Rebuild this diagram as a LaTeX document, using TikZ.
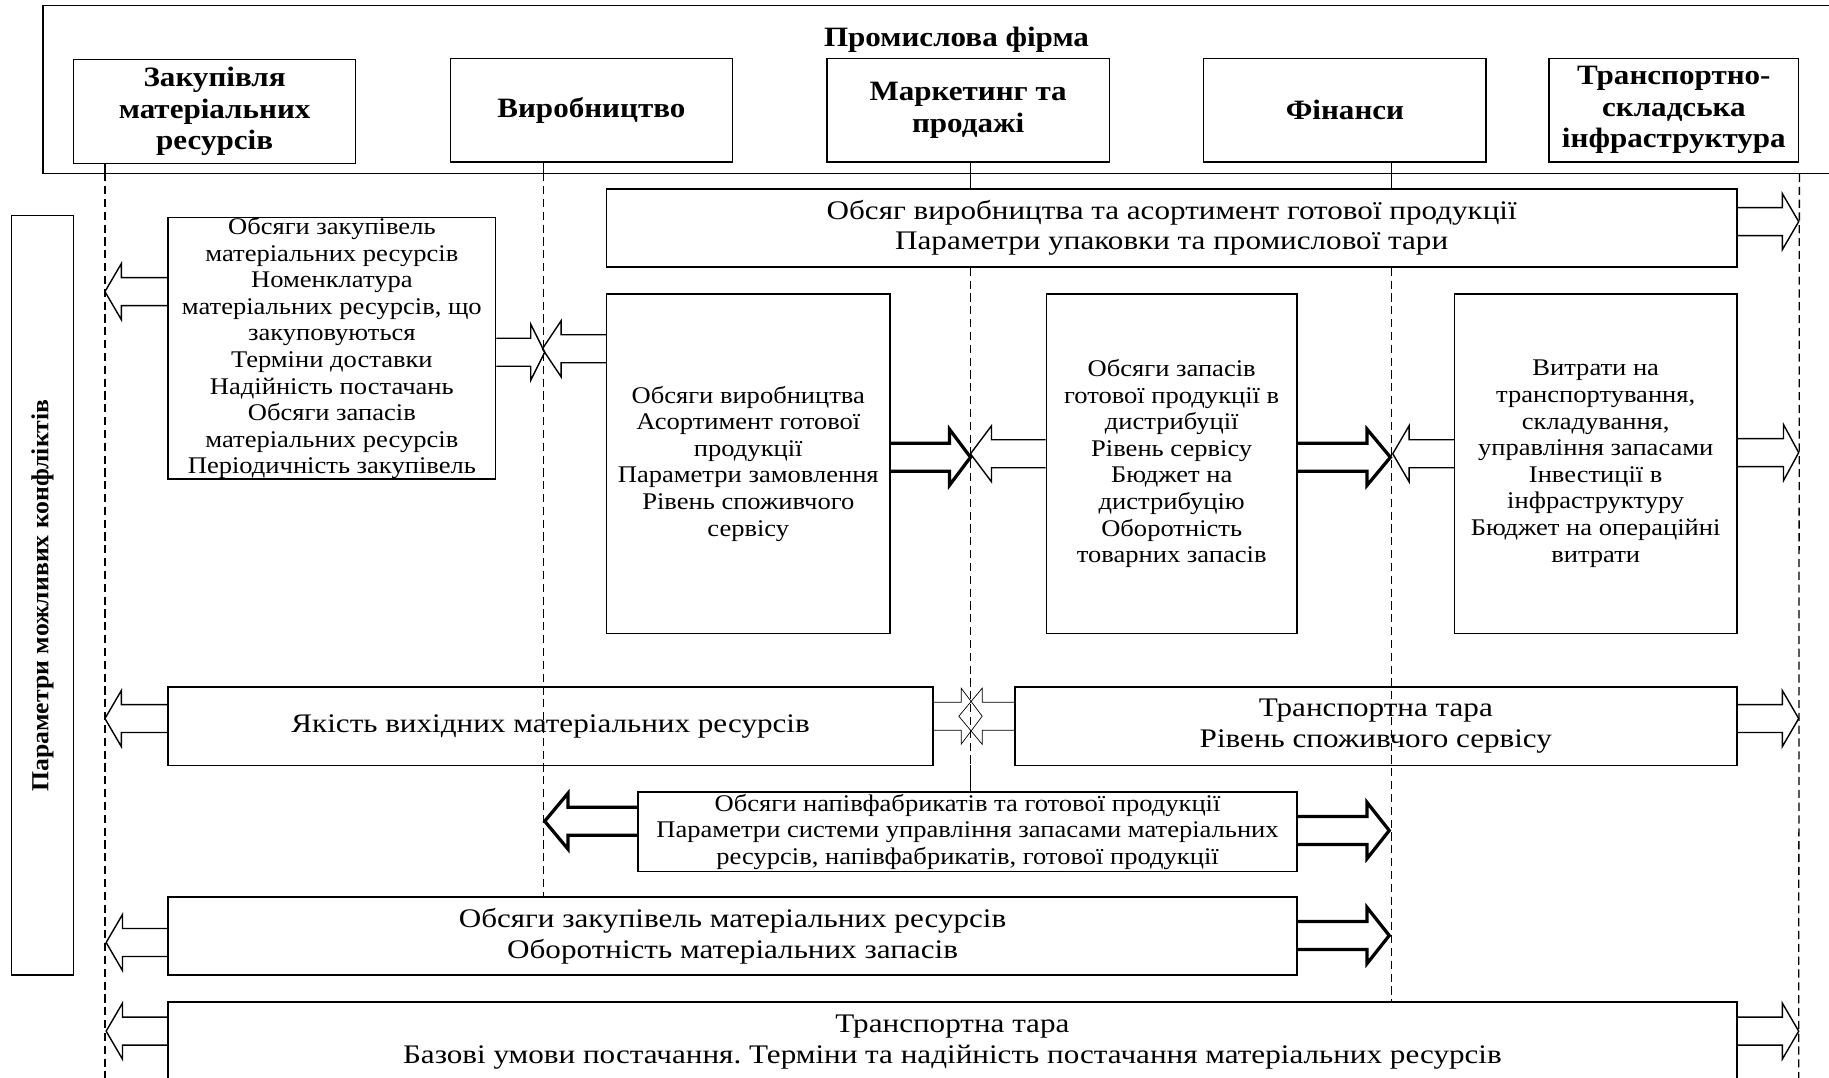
\documentclass[tikz,border=0pt]{standalone}
\usepackage{fontspec}
\setmainfont{Liberation Serif}
\newfontfamily\bigfont[FakeStretch=1.16]{Liberation Serif}
\newfontfamily\smallfont[FakeStretch=1.11]{Liberation Serif}
\newfontfamily\hdrfont[FakeStretch=1.11]{Liberation Serif}
\newfontfamily\lblfont[FakeStretch=1.05]{Liberation Serif}
\frenchspacing
\newcommand\barrow[5][arr]{\draw[#1] (#2 |- 0,#5-12) -- (#3,#5-12) -- (#3,#5-24) -- (#4,#5) -- (#3,#5+24) -- (#3,#5+12) -- (#2 |- 0,#5+12);}
\begin{document}
\begin{tikzpicture}[x=1pt,y=-1pt,
  box/.style={draw, line width=1.2pt, inner sep=0pt, align=center},
  big/.style={font=\bigfont\fontsize{23}{26}\selectfont},
  small/.style={font=\smallfont\fontsize{20.5}{22.8}\selectfont},
  hdr/.style={font=\hdrfont\fontsize{24}{27}\selectfont\bfseries},
  arr/.style={line width=1.2pt},
  tharr/.style={line width=2.8pt},
  lharr/.style={line width=0.6pt},
  vline/.style={line width=1pt},
  dline/.style={line width=1.1pt, dash pattern=on 7pt off 4pt}]
\useasboundingbox (0,0) rectangle (1568,924);
% outer frame
\draw[line width=1.2pt] (1575,4.5) -- (37,4.5) -- (37,148.5) -- (1575,148.5);
\node[hdr] (title) at (820,34) {Промислова фірма};
% header boxes
\node[box,hdr,minimum width=242pt,minimum height=89pt] (h1) at (184,95.5) {Закупівля\\матеріальних\\ресурсів};
\node[box,hdr,minimum width=242pt,minimum height=89pt] (h2) at (507,94.5) {Виробництво};
\node[box,hdr,minimum width=242pt,minimum height=89pt] (h3) at (830,94.5) {Маркетинг та\\продажі};
\node[box,hdr,minimum width=242pt,minimum height=89pt] (h4) at (1153,94.5) {Фінанси};
\node[box,hdr,minimum width=214pt,minimum height=89pt] (h5) at (1435,94.5) {Транспортно-\\складська\\інфраструктура};
% left label
\node[box,minimum width=53pt,minimum height=651pt] (L) at (36.5,510.5) {};
\node[rotate=90,font=\lblfont\fontsize{21}{24}\selectfont\bfseries] at (L.center) {Параметри можливих конфліктів};
% content boxes
\node[box,big,minimum width=969pt,minimum height=67pt] (A) at (1004.5,195.5) {Обсяг виробництва та асортимент готової продукції\\Параметри упаковки та промислової тари};
\node[box,small,minimum width=281pt,minimum height=224pt] (B) at (284.5,298.5) {Обсяги закупівель\\матеріальних ресурсів\\Номенклатура\\матеріальних ресурсів, що\\закуповуються\\Терміни доставки\\Надійність постачань\\Обсяги запасів\\матеріальних ресурсів\\Періодичність закупівель};
\node[box,small,minimum width=243pt,minimum height=291pt] (C) at (641.5,397.5) {Обсяги виробництва\\Асортимент готової\\продукції\\Параметри замовлення\\Рівень споживчого\\сервісу};
\node[box,small,minimum width=215pt,minimum height=291pt] (D) at (1004.5,397.5) {Обсяги запасів\\готової продукції в\\дистрибуції\\Рівень сервісу\\Бюджет на\\дистрибуцію\\Оборотність\\товарних запасів};
\node[box,small,minimum width=242pt,minimum height=291pt] (E) at (1368,397.5) {Витрати на\\транспортування,\\складування,\\управління запасами\\Інвестиції в\\інфраструктуру\\Бюджет на операційні\\витрати};
\node[box,big,minimum width=656pt,minimum height=67pt] (F) at (472,622.5) {Якість вихідних матеріальних ресурсів};
\node[box,big,minimum width=619pt,minimum height=67pt] (G) at (1179.5,622.5) {Транспортна тара\\Рівень споживчого сервісу};
\node[box,small,minimum width=565pt,minimum height=68pt] (H) at (829.5,713) {Обсяги напівфабрикатів та готової продукції\\Параметри системи управління запасами матеріальних\\ресурсів, напівфабрикатів, готової продукції};
\node[box,big,minimum width=968pt,minimum height=67pt] (I) at (628,802.5) {Обсяги закупівель матеріальних ресурсів\\Оборотність матеріальних запасів};
\node[box,big,minimum width=1345pt,minimum height=69pt] (J) at (816.5,893.5) {Транспортна тара\\Базові умови постачання. Терміни та надійність постачання матеріальних ресурсів};
% vertical lines
\draw[vline] (h1.south -| 90,0) -- (90,148.5);
\draw[dline] (90,148.5) -- (90,930);
\draw[vline] (h2.south -| 466,0) -- (466,148.5);
\draw[dline] (466,148.5) -- (I.north -| 466,0);
\draw[vline] (h3.south -| 832,0) -- (A.north -| 832,0);
\draw[dline] (A.south -| 832,0) -- (832,656);
\draw[vline] (832,656) -- (H.north -| 832,0);
\draw[vline] (h4.south -| 1193,0) -- (A.north -| 1193,0);
\draw[dline] (A.south -| 1193,0) -- (J.north -| 1193,0);
\draw[dline] (h5.south east) ++(0,9.5) -- (1542,930);
% block arrows
\barrow{A.east}{1528}{1542}{190}
\barrow{B.west}{104}{90}{250}
\barrow{B.east}{455}{467}{302}
\barrow{C.west}{481}{465}{299}
\barrow[tharr]{C.east}{814}{832}{392}
\barrow{D.west}{850}{832}{389}
\barrow[tharr]{D.east}{1172}{1192}{392}
\barrow{E.west}{1208}{1194}{389}
\barrow{E.east}{1529}{1542}{388}
\barrow{F.west}{104}{90}{616}
\barrow[lharr]{F.east}{824}{842}{614}
\barrow[lharr]{G.west}{842}{822}{614}
\barrow{G.east}{1528}{1542}{616}
\barrow[tharr]{H.west}{487}{467}{704}
\barrow[tharr]{H.east}{1172}{1191}{712}
\barrow{I.west}{105}{91}{808}
\barrow[tharr]{I.east}{1172}{1191}{802}
\barrow{J.west}{105}{91}{884}
\barrow{J.east}{1528}{1542}{884}
\end{tikzpicture}
\end{document}
